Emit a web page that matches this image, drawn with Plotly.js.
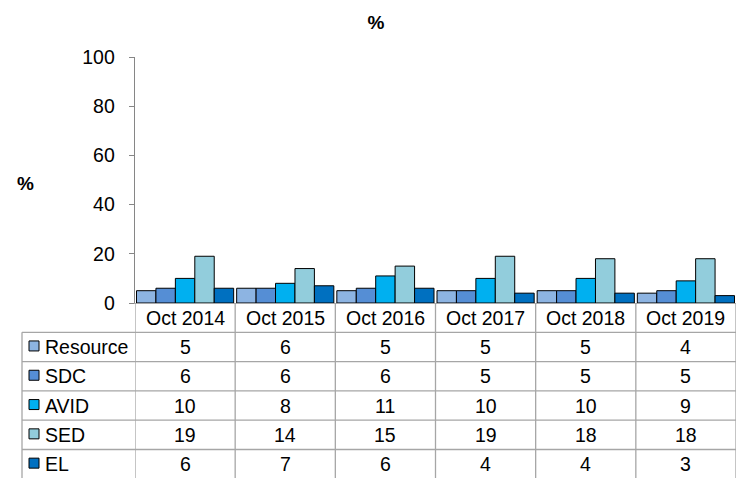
<!DOCTYPE html>
<html>
<head>
<meta charset="utf-8">
<script src="https://cdn.plot.ly/plotly-3.0.1.min.js"></script>
<style>html,body{margin:0;padding:0;background:#fff;}#chart{width:741px;height:478px;}</style>
</head>
<body>
<div id="chart"></div>
<script>
const categories = ["Oct 2014", "Oct 2015", "Oct 2016", "Oct 2017", "Oct 2018", "Oct 2019"];
const seriesNames = ["Resource", "SDC", "AVID", "SED", "EL"];
const resource = [5, 6, 5, 5, 5, 4];
const sdc = [6, 6, 6, 5, 5, 5];
const avid = [10, 8, 11, 10, 10, 9];
const sed = [19, 14, 15, 19, 18, 18];
const el = [6, 7, 6, 4, 4, 3];
const yTicks = [0, 20, 40, 60, 80, 100];
const seriesValues = [resource, sdc, avid, sed, el];
const colors = ["#8DB4E2", "#558ED5", "#00B0F0", "#92CDDC", "#0070C0"];

const W = 741, H = 478;
const M = {l: 135, r: 5, t: 57, b: 175};
const PW = W - M.l - M.r, PH = H - M.t - M.b;
const FONT = "Liberation Sans, Arial, sans-serif";
const FS = 19.5;
const rowH = 29.3;
const gridColor = "#A6A6A6";

function py(px) { return -px / PH; }        // px below plot bottom -> paper y
function pxX(px) { return (px - M.l) / PW; } // absolute px -> paper x
function pyAbs(px) { return (H - M.b - px) / PH; } // absolute px from top -> paper y

const traces = seriesNames.map((n, i) => ({
  type: "bar", name: n, x: categories, y: seriesValues[i],
  marker: {color: colors[i], line: {color: "#000", width: 1}},
  hoverinfo: "x+y+name"
}));

const shapes = [];
const annotations = [];
const tableLeft = pxX(22);
const bottomY = py(M.b);

for (let k = 0; k <= categories.length; k++) {
  shapes.push({type: "line", xref: "x", yref: "paper", x0: k - 0.5, x1: k - 0.5,
    y0: 0, y1: bottomY, line: {color: gridColor, width: 1.3}});
}
shapes.push({type: "line", xref: "paper", yref: "paper", x0: tableLeft, x1: tableLeft,
  y0: py(rowH), y1: bottomY, line: {color: gridColor, width: 1.3}});
for (let r = 1; r <= seriesNames.length; r++) {
  shapes.push({type: "line", xref: "paper", yref: "paper", x0: tableLeft, x1: 1,
    y0: py(rowH * r), y1: py(rowH * r), line: {color: gridColor, width: 1.3}});
}
categories.forEach((c, j) => {
  annotations.push({xref: "x", yref: "paper", x: j, y: py(rowH * 0.5), text: c,
    showarrow: false, xanchor: "center", yanchor: "middle", font: {family: FONT, size: FS, color: "#000"}});
});
seriesNames.forEach((n, i) => {
  const yc = rowH * (i + 1.5);
  shapes.push({type: "rect", xref: "paper", yref: "paper", x0: pxX(29), x1: pxX(39),
    y0: py(yc - 6), y1: py(yc + 4), fillcolor: colors[i], line: {color: "#000", width: 1}});
  annotations.push({xref: "paper", yref: "paper", x: pxX(43), y: py(yc), text: n,
    showarrow: false, xanchor: "left", yanchor: "middle", font: {family: FONT, size: FS, color: "#000"}});
  seriesValues[i].forEach((v, j) => {
    annotations.push({xref: "x", yref: "paper", x: j, y: py(yc), text: String(v),
      showarrow: false, xanchor: "center", yanchor: "middle", font: {family: FONT, size: FS, color: "#000"}});
  });
});
// horizontal y-axis title
annotations.push({xref: "paper", yref: "paper", x: pxX(25), y: pyAbs(183), text: "<b>%</b>",
  showarrow: false, xanchor: "center", yanchor: "middle", font: {family: FONT, size: 19, color: "#000"}});

const layout = {
  width: W, height: H,
  margin: M,
  paper_bgcolor: "#fff", plot_bgcolor: "#fff",
  barmode: "group", bargap: 0.03, bargroupgap: 0,
  showlegend: false,
  title: {text: "<b>%</b>", xref: "container", x: 376 / W, xanchor: "center", yref: "container", y: 1 - 22 / H, yanchor: "middle",
    font: {family: FONT, size: 19, color: "#000"}},
  xaxis: {type: "category", range: [-0.5, 5.5], showticklabels: false, ticks: "",
    showline: true, linecolor: gridColor, linewidth: 1.3, showgrid: false, zeroline: false, fixedrange: true},
  yaxis: {range: [0, 100], tickvals: yTicks, ticktext: yTicks.map(String), ticks: "outside", ticklen: 5,
    tickcolor: "#868686", showline: true, linecolor: "#868686", linewidth: 1.3, showgrid: false, zeroline: false,
    ticklabelstandoff: 10,
    tickfont: {family: FONT, size: FS, color: "#000"}, fixedrange: true},
  shapes: shapes,
  annotations: annotations
};

Plotly.newPlot("chart", traces, layout, {displayModeBar: false, staticPlot: true});
</script>
</body>
</html>
